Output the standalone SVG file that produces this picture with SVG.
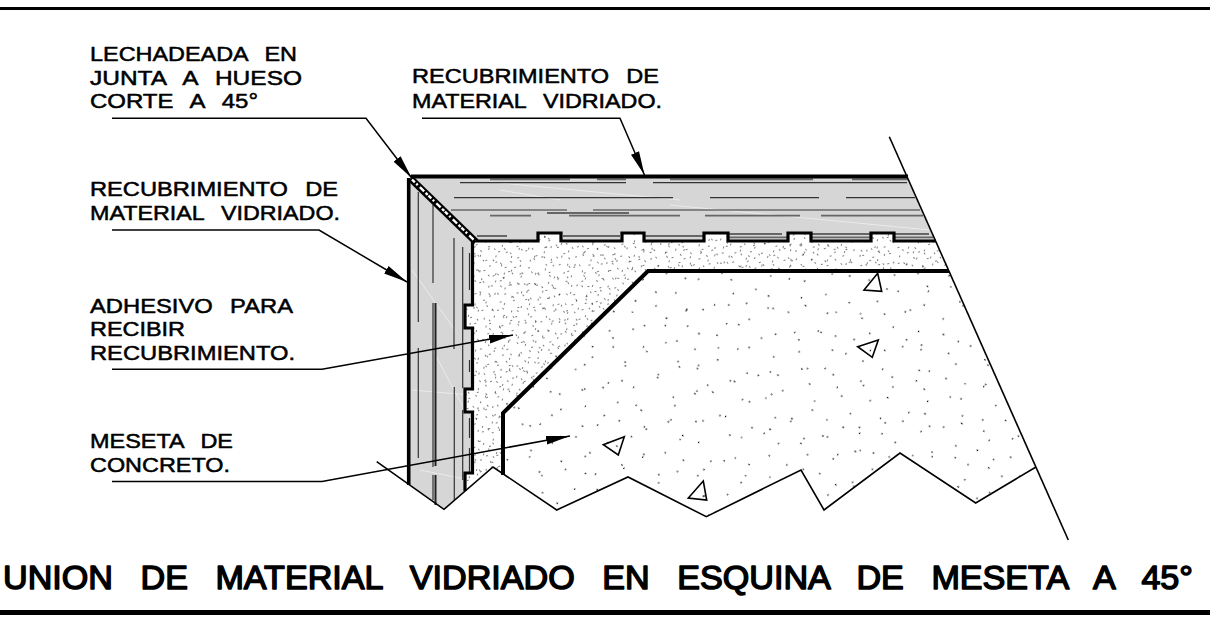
<svg xmlns="http://www.w3.org/2000/svg" width="1210" height="623" viewBox="0 0 1210 623">
<style>
.t{font-family:"Liberation Sans",Arial,sans-serif;font-size:20px;fill:#000;stroke:#000;stroke-width:.5px;stroke-linejoin:round;word-spacing:9px}
.title{font-family:"Liberation Sans",Arial,sans-serif;font-size:34px;fill:#000;stroke:#000;stroke-width:1.5px;stroke-linejoin:round;word-spacing:18px}
.ld{fill:none;stroke:#000;stroke-width:1.5}
.arr{marker-end:url(#ah)}
.thick{fill:none;stroke:#000;stroke-width:3.2;stroke-linejoin:miter}
.top{fill:none;stroke:#000;stroke-width:4}
.mid{fill:none;stroke:#222;stroke-width:2}
.cut{fill:none;stroke:#000;stroke-width:1.6;stroke-linejoin:miter}
.hd{fill:none;stroke:#333;stroke-width:1.2}
.hl{fill:none;stroke:#666;stroke-width:1.8}
.ws{fill:none;stroke:#efefef;stroke-width:.8}
.tri{fill:none;stroke:#000;stroke-width:1.6;stroke-linejoin:miter}
.dots{fill:none;stroke:#000;stroke-width:1.2}
.dots2{fill:none;stroke:#000;stroke-width:.7}
</style>
<defs>
<marker id="ah" markerUnits="userSpaceOnUse" markerWidth="24" markerHeight="10" refX="22" refY="4" orient="auto" viewBox="0 0 22 8"><path d="M0 0L22 4L0 8z" fill="#000"/></marker>
<path id="d" class="dots" d="M3 5h1M11 12h1M17 3h1M26 8h1M34 15h1M41 4h1M52 10h1M60 2h1M69 13h1M77 6h1M88 11h1M96 4h1M7 21h1M15 27h1M23 19h1M31 25h1M39 22h1M47 29h1M56 20h1M64 26h1M72 23h1M81 28h1M90 21h1M98 26h1M2 36h1M10 41h1M19 34h1M28 39h1M36 44h1M44 36h1M53 42h1M61 35h1M70 40h1M79 37h1M86 44h1M95 38h1M5 52h1M14 57h1M22 49h1M30 55h1M38 60h1M48 51h1M57 56h1M65 49h1M74 54h1M83 59h1M92 51h1M99 56h1M8 68h1M17 73h1M25 65h1M33 71h1M42 66h1M50 74h1M59 68h1M67 64h1M76 72h1M85 66h1M94 71h1M3 82h1M12 86h1M21 80h1M29 85h1M37 78h1M46 83h1M55 80h1M63 86h1M71 79h1M80 84h1M89 78h1M97 84h1M6 14h1M45 17h1M84 18h1M33 32h1M66 33h1M12 47h1M54 63h1M89 32h1M20 60h1M72 44h1"/>
<path id="e" class="dots2" d="M3 5h.5M11 12h.5M17 3h.5M26 8h.5M34 15h.5M41 4h.5M52 10h.5M60 2h.5M69 13h.5M77 6h.5M88 11h.5M96 4h.5M7 21h.5M15 27h.5M23 19h.5M31 25h.5M39 22h.5M47 29h.5M56 20h.5M64 26h.5M72 23h.5M81 28h.5M90 21h.5M98 26h.5M2 36h.5M10 41h.5M19 34h.5M28 39h.5M36 44h.5M44 36h.5M53 42h.5M61 35h.5M70 40h.5M79 37h.5M86 44h.5M95 38h.5M5 52h.5M14 57h.5M22 49h.5M30 55h.5M38 60h.5M48 51h.5M57 56h.5M65 49h.5M74 54h.5M83 59h.5M92 51h.5M99 56h.5M8 68h.5M17 73h.5M25 65h.5M33 71h.5M42 66h.5M50 74h.5M59 68h.5M67 64h.5M76 72h.5M85 66h.5M94 71h.5M3 82h.5M12 86h.5M21 80h.5M29 85h.5M37 78h.5M46 83h.5M55 80h.5M63 86h.5M71 79h.5M80 84h.5M89 78h.5M97 84h.5"/>
<pattern id="a1" patternUnits="userSpaceOnUse" width="101" height="89" patternTransform="rotate(17 473 241) translate(473 241)"><use href="#d"/></pattern>
<pattern id="a2" patternUnits="userSpaceOnUse" width="101" height="89" patternTransform="rotate(-38) translate(11 37)"><use href="#d"/></pattern>
<pattern id="a3" patternUnits="userSpaceOnUse" width="101" height="89" patternTransform="rotate(71) translate(53 19)"><use href="#d"/></pattern>
<pattern id="c1" patternUnits="userSpaceOnUse" width="101" height="89" patternTransform="rotate(29) scale(2.2 2.1)"><use href="#e"/></pattern>
<pattern id="c2" patternUnits="userSpaceOnUse" width="101" height="89" patternTransform="rotate(-53) scale(2.4 2.2) translate(31 7)"><use href="#e"/></pattern>
<path id="adh" d="M473 241H538V233H561V241H622V233H644V241H704V233H728V241H788V233H811V241H871V233H894V241H935L949 271H648L503 413V475L493 467L465 491V473H473V412H465V389H473V328H465V305H473z"/>
<path id="con" d="M503 475V413L648 271H949L1036 467L975.7 503L900 453L824 510L801 470L706 517L670 498L628 477L556.7 510z"/>
</defs>

<g id="frame"><rect x="0" y="7" width="1210" height="3" fill="#000"/><rect x="0" y="610" width="1210" height="5" fill="#000"/></g>

<g id="concrete-slab">
<use href="#adh" fill="url(#a1)"/><use href="#adh" fill="url(#a2)"/><use href="#adh" fill="url(#a3)"/>
<use href="#con" fill="url(#c1)"/><use href="#con" fill="url(#c2)"/>
</g>

<g id="tile-top">
<path d="M411 178H908L935 241H894V233H871V241H811V233H788V241H728V233H704V241H644V233H622V241H561V233H538V241H476z" fill="#d6d6d6"/>
<path class="ws" d="M490 182L680 200M670 205L930 230M500 190L560 200"/>
<path class="hl" d="M490 179.3H570M597 179.3H626M670 179.3H813M852 179.3H908"/>
<path class="hd" d="M460 182.7H626M653 182.7H907M454 197.7H673M710 197.7H819M846 197.7H915M451 210H567M593 210H920"/>
<path class="hl" d="M490 215.7H531M547 213H629M569 215.7H680M705 215.7H800M821 215.7H923"/>
<path class="hl" d="M477 236H507M563 236H620M645 236H703M728 234H782M728 237.3H787M812 234H870M812 237.3H870M895 234H929M895 237.3H933"/>
<path class="top" d="M411 176.5H908"/>
<path class="thick" d="M476 241H538V233H561V241H622V233H644V241H704V233H728V241H788V233H811V241H871V233H894V241H936"/>
</g>

<g id="tile-side">
<path d="M408.7 180L476 241L473 241V305H465V328H473V389H465V412H473V473H465V491L444 509L408.7 485z" fill="#d6d6d6"/>
<path class="ws" d="M412 270L455 330M412 390L470 395M420 470L470 480M430 345L470 420"/>
<path class="hd" d="M418.3 192V322M418.3 348V458M433 205V283M433 303V467M433 475V500M454 238V349M454.3 387V500M462.7 247V388M462.7 410V480M469.5 253V290M469.5 360V372M469.5 418V438M469.5 448V472"/>
<path class="mid" d="M435.5 303V466M435.5 475V505"/>
<path class="thick" style="stroke-width:3.6" d="M408.7 178V485"/>
<path class="thick" d="M472.5 241V305H465V328H472.5V389H465V412H472.5V473H465V491"/>
<path d="M410.5 178.5L476 242" stroke="#000" stroke-width="7" fill="none"/>
<path d="M412 179.5L475 241" stroke="#fff" stroke-width="2.4" stroke-dasharray="4 2 2 3 6 2 3 1" fill="none"/>
</g>

<g id="cut-lines">
<path class="cut" d="M889.3 136.7L1068.3 540"/>
<path class="cut" d="M376.7 461.7L444 509.3L493 467L556.7 510L628 477L706.3 516.7L801 470L824 510L900 453L975.7 503L1036 467"/>
</g>

<g id="slab-edge"><path d="M503 475V413L648 271H949" fill="none" stroke="#000" stroke-width="4"/></g>

<g id="aggregate">
<path class="tri" d="M877.7 273.3L864 290L881.7 291.3z"/>
<path class="tri" d="M878.3 340L857.7 346.7L872.3 357.3z"/>
<path class="tri" d="M624.3 436.7L603.3 444.7L618.3 455z"/>
<path class="tri" d="M703.3 481L688.3 498L706.7 500z"/>
</g>

<g id="connectors">
<path class="ld arr" d="M112 118.3H366L411.7 178"/>
<path class="ld arr" d="M422 118.3H620L644.5 175"/>
<path class="ld arr" d="M112 230H319L407 282"/>
<path class="ld arr" d="M112 369.3H322L513 335"/>
<path class="ld arr" d="M112 481.5H322L570 436"/>
</g>

<g id="label-lechadeada">
<text class="t" x="90" y="60.7" textLength="207" lengthAdjust="spacingAndGlyphs">LECHADEADA EN</text>
<text class="t" x="90" y="85" textLength="212" lengthAdjust="spacingAndGlyphs">JUNTA A HUESO</text>
<text class="t" x="90" y="108" textLength="168" lengthAdjust="spacingAndGlyphs">CORTE A 45°</text>
</g>
<g id="label-recubrimiento-top">
<text class="t" x="412" y="83.3" textLength="247" lengthAdjust="spacingAndGlyphs">RECUBRIMIENTO DE</text>
<text class="t" x="412" y="108.3" textLength="250" lengthAdjust="spacingAndGlyphs">MATERIAL VIDRIADO.</text>
</g>
<g id="label-recubrimiento-side">
<text class="t" x="90" y="195.7" textLength="248" lengthAdjust="spacingAndGlyphs">RECUBRIMIENTO DE</text>
<text class="t" x="90" y="220" textLength="250" lengthAdjust="spacingAndGlyphs">MATERIAL VIDRIADO.</text>
</g>
<g id="label-adhesivo">
<text class="t" x="90" y="312.7" textLength="203" lengthAdjust="spacingAndGlyphs">ADHESIVO PARA</text>
<text class="t" x="90" y="336" textLength="95" lengthAdjust="spacingAndGlyphs">RECIBIR</text>
<text class="t" x="90" y="360" textLength="205" lengthAdjust="spacingAndGlyphs">RECUBRIMIENTO.</text>
</g>
<g id="label-meseta">
<text class="t" x="90" y="448" textLength="143" lengthAdjust="spacingAndGlyphs">MESETA DE</text>
<text class="t" x="90" y="471.7" textLength="140" lengthAdjust="spacingAndGlyphs">CONCRETO.</text>
</g>
<g id="title">
<text class="title" x="3" y="589" textLength="1190" lengthAdjust="spacingAndGlyphs">UNION DE MATERIAL VIDRIADO EN ESQUINA DE MESETA A 45°</text>
</g>
</svg>
